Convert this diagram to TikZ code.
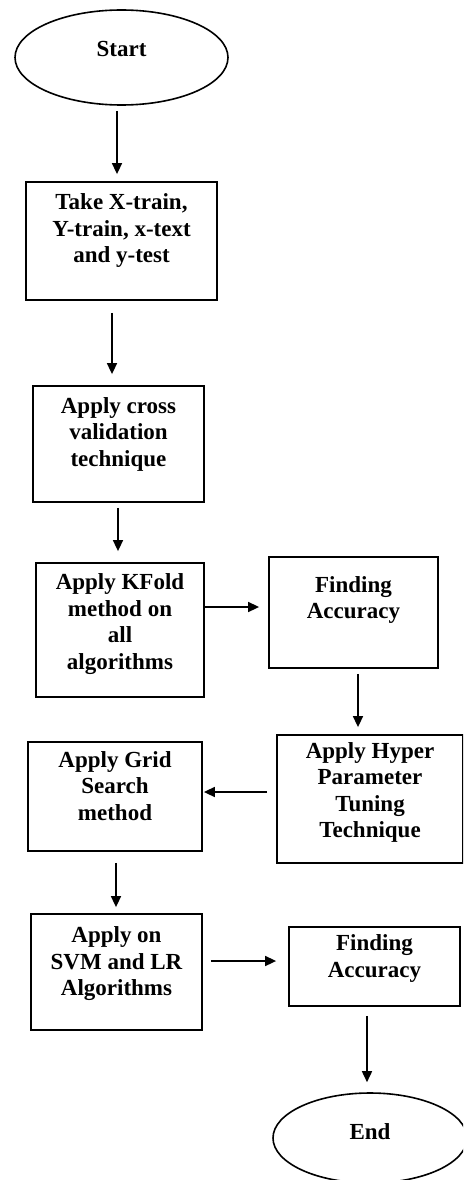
\documentclass[tikz,border=0pt]{standalone}
\usepackage{fontspec}
\setmainfont{Liberation Serif}
\usetikzlibrary{arrows.meta,shapes.geometric}

\tikzset{
  stepbox/.style={draw, line width=1.8pt, inner sep=0pt},
  term/.style={draw, ellipse, line width=1.6pt, inner sep=0pt},
  txt/.style={align=center, inner sep=0pt,
    font=\bfseries\fontsize{23}{26.5}\selectfont},
  arr/.style={line width=1.6pt, -{Triangle[length=11pt,width=10pt]}},
}

\begin{document}
\begin{tikzpicture}[x=1pt,y=1pt]
\useasboundingbox (0,0) rectangle (463,-1180);
\clip (0,0) rectangle (463,-1180);

% terminals and process boxes
\node[term, minimum width=213, minimum height=95] (start) at (121.5,-57.5) {};
\node[stepbox, minimum width=191, minimum height=118] (b1) at (121.5,-241) {};
\node[stepbox, minimum width=171, minimum height=116] (b2) at (118.5,-444) {};
\node[stepbox, minimum width=168, minimum height=134] (b3) at (120,-630) {};
\node[stepbox, minimum width=169, minimum height=111] (b4) at (353.5,-612.5) {};
\node[stepbox, minimum width=186, minimum height=128] (b5) at (370,-799) {};
\node[stepbox, minimum width=174, minimum height=109] (b6) at (115,-796.5) {};
\node[stepbox, minimum width=171, minimum height=116] (b7) at (116.5,-972) {};
\node[stepbox, minimum width=171, minimum height=79] (b8) at (374.5,-966.5) {};
\node[term, minimum width=194, minimum height=90] (stop) at (370,-1138) {};

% labels
\node[txt] at ([yshift=8.5pt]start.center) {Start};
\node[txt] at ([yshift=10pt]b1.center) {Take X-train,\\Y-train, x-text\\and y-test};
\node[txt] at ([yshift=10pt]b2.center) {Apply cross\\validation\\technique};
\node[txt] at ([yshift=6pt]b3.center) {Apply KFold\\method on\\all\\algorithms};
\node[txt] at ([yshift=12.5pt]b4.center) {Finding\\Accuracy};
\node[txt] at ([yshift=6.5pt]b5.center) {Apply Hyper\\Parameter\\Tuning\\Technique};
\node[txt] at ([yshift=10.5pt]b6.center) {Apply Grid\\Search\\method};
\node[txt] at ([yshift=8pt]b7.center) {Apply on\\SVM and LR\\Algorithms};
\node[txt] at ([yshift=8pt]b8.center) {Finding\\Accuracy};
\node[txt] at ([yshift=6pt]stop.center) {End};

% connectors
\draw[arr] ([xshift=-4.5pt,yshift=-5pt]start.south) -- ([xshift=-4.5pt,yshift=7pt]b1.north);
\draw[arr] ([xshift=-9.5pt,yshift=-12pt]b1.south) -- ([xshift=-6.5pt,yshift=11pt]b2.north);
\draw[arr] ([xshift=-0.5pt,yshift=-5pt]b2.south) -- ([xshift=-2pt,yshift=11pt]b3.north);
\draw[arr] ([yshift=23pt]b3.east) -- ([xshift=-9pt,yshift=5.5pt]b4.west);
\draw[arr] ([xshift=4.5pt,yshift=-5pt]b4.south) -- ([xshift=-12pt,yshift=7pt]b5.north);
\draw[arr] ([xshift=-9pt,yshift=7pt]b5.west) -- ([xshift=1pt,yshift=4.5pt]b6.east);
\draw[arr] ([xshift=1pt,yshift=-11pt]b6.south) -- ([xshift=-0.5pt,yshift=6pt]b7.north);
\draw[arr] ([xshift=8pt,yshift=11pt]b7.east) -- ([xshift=-12pt,yshift=5.5pt]b8.west);
\draw[arr] ([xshift=-7.5pt,yshift=-9pt]b8.south) -- ([xshift=-3pt,yshift=10pt]stop.north);
\end{tikzpicture}
\end{document}
